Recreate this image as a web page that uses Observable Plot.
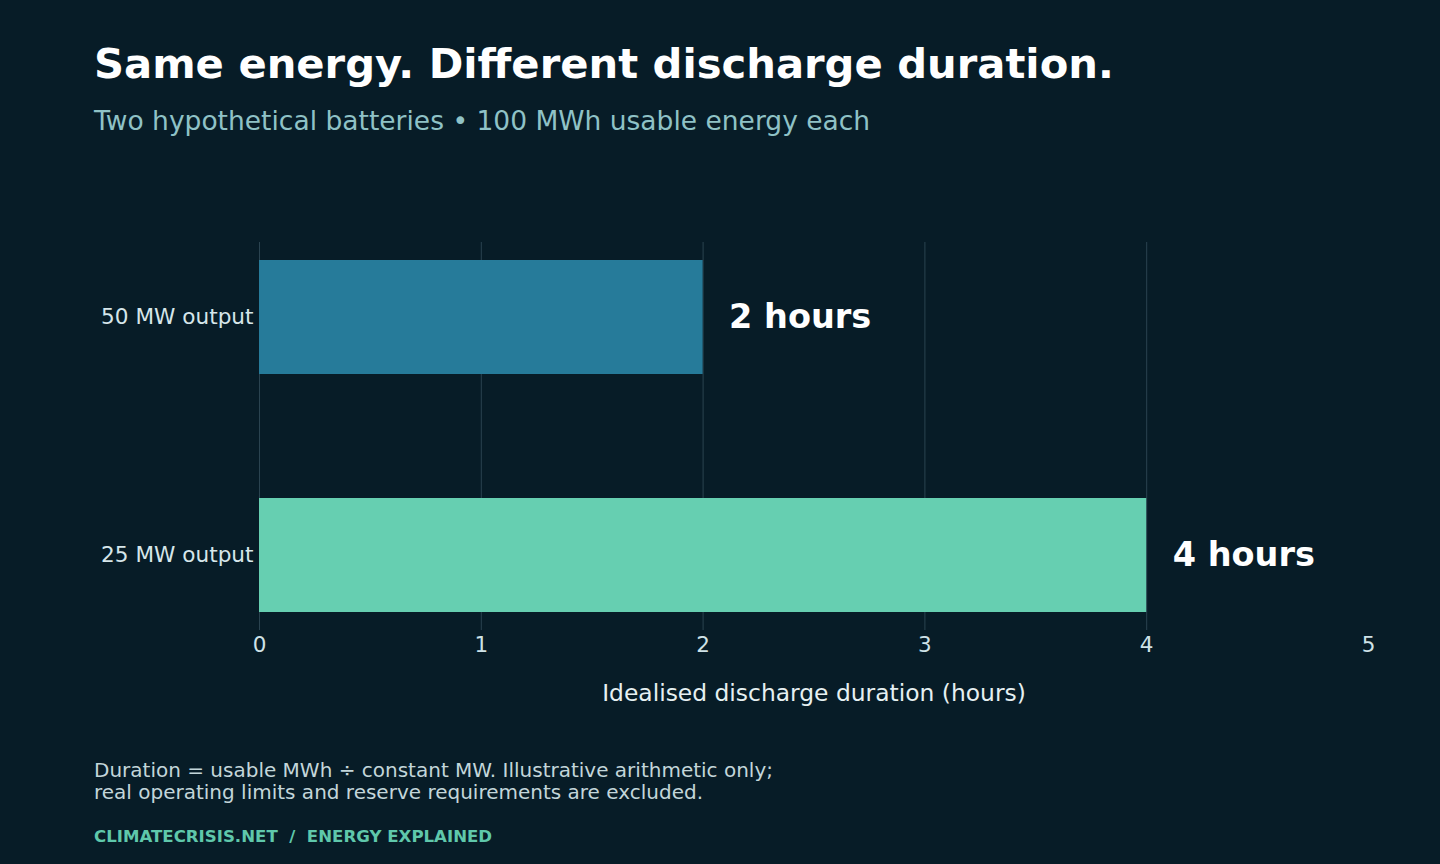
<!DOCTYPE html>
<html>
<head>
<meta charset="utf-8">
<script src="https://cdn.jsdelivr.net/npm/d3@7"></script>
<script src="https://cdn.jsdelivr.net/npm/@observablehq/plot@0.6"></script>
<style>
  html, body { margin: 0; padding: 0; background: #071c27; }
  #page { position: relative; width: 1440px; height: 864px; background: #071c27; overflow: hidden; font-family: "DejaVu Sans", sans-serif; }
  #title { position: absolute; left: 94px; top: 38px; margin: 0; font-size: 41.7px; font-weight: bold; color: #ffffff; line-height: 52px; white-space: nowrap; }
  #subtitle { position: absolute; left: 94px; top: 104px; margin: 0; font-size: 26.5px; color: #8fc2c6; line-height: 34px; white-space: nowrap; }
  #chart { position: absolute; left: 0; top: 200px; }
  #note { position: absolute; left: 94px; top: 759px; margin: 0; font-size: 20px; color: #c3d6da; line-height: 22px; white-space: nowrap; }
  #brand { position: absolute; left: 94px; top: 826px; margin: 0; font-size: 16.6px; font-weight: bold; color: #5fc8ab; line-height: 22px; white-space: pre; }
</style>
</head>
<body>
<div id="page">
  <h1 id="title">Same energy. Different discharge duration.</h1>
  <p id="subtitle">Two hypothetical batteries • 100 MWh usable energy each</p>
  <div id="chart"></div>
  <p id="note">Duration = usable MWh ÷ constant MW. Illustrative arithmetic only;<br>real operating limits and reserve requirements are excluded.</p>
  <p id="brand">CLIMATECRISIS.NET  /  ENERGY EXPLAINED</p>
</div>
<script>
const batteries = ["50 MW output", "25 MW output"];
const durations = [2, 4];
const barColors = ["#267b9a", "#66cfb1"];
const xTicks = [0, 1, 2, 3, 4, 5];
const gridTicks = [0, 1, 2, 3, 4];
const xLabel = "Idealised discharge duration (hours)";

const rows = batteries.map((b, i) => ({battery: b, hours: durations[i], color: barColors[i]}));

const chart = Plot.plot({
  width: 1440,
  height: 540,
  marginLeft: 259,
  marginRight: 72,
  marginTop: 42,
  marginBottom: 110,
  style: {background: "transparent", fontFamily: "DejaVu Sans, sans-serif", overflow: "visible"},
  x: {domain: [0, 5]},
  y: {domain: batteries, paddingInner: 0.52, paddingOuter: 0.075},
  marks: [
    Plot.gridX(gridTicks, {stroke: "#2a4350", strokeOpacity: 1, strokeWidth: 1}),
    Plot.barX(rows, {y: "battery", x: "hours", fill: "color"}),
    Plot.text(rows, {y: "battery", x: "hours", text: d => `${d.hours} hours`, textAnchor: "start", dx: 26, fill: "#ffffff", fontSize: 33.5, fontWeight: "bold"}),
    Plot.axisX(xTicks, {tickSize: 0, tickPadding: 6, fontSize: 21.5, color: "#cfe2e7", label: null, tickFormat: d3.format("d")}),
    Plot.text([xLabel], {frameAnchor: "bottom", dy: 70, text: d => d, fontSize: 23.4, fill: "#e6f0f2"}),
    Plot.axisY({tickSize: 0, tickPadding: 6, fontSize: 21.6, color: "#d6e6ea", label: null})
  ]
});
document.getElementById("chart").appendChild(chart);
</script>
</body>
</html>
